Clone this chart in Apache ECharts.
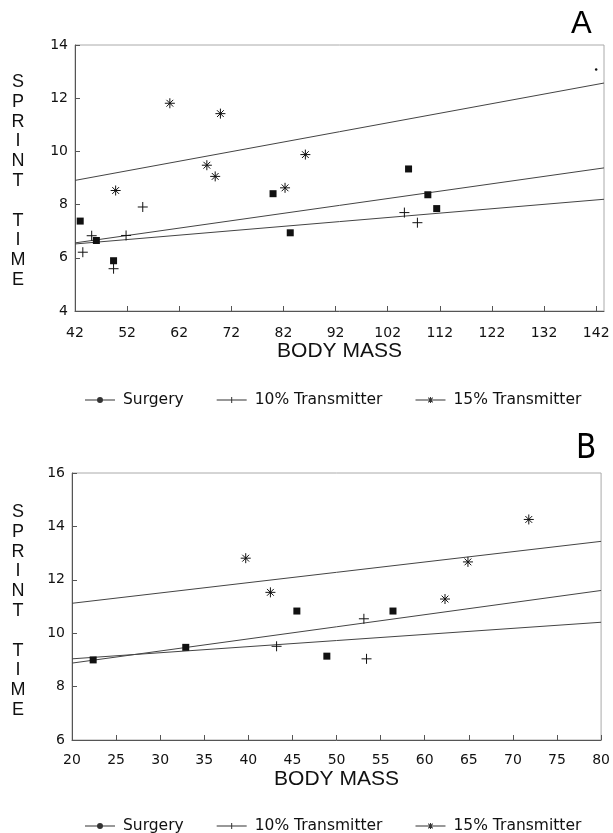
<!DOCTYPE html>
<html>
<head>
<meta charset="utf-8">
<script src="https://cdn.jsdelivr.net/npm/echarts@6/dist/echarts.min.js"></script>
<style>
  html, body { margin: 0; padding: 0; background: #fff; }
  #chart { width: 613px; height: 833px; }
</style>
</head>
<body>
<div id="chart"></div>
<script>
  // panel A: body mass vs sprint time
  const xTicksA = [42, 52, 62, 72, 82, 92, 102, 112, 122, 132, 142]
  const surgeryA = [[43.0, 7.38], [46.1, 6.65], [49.4, 5.89], [80.0, 8.41], [83.3, 6.94], [106.0, 9.34], [109.7, 8.37], [111.4, 7.85]]
  const tx10A = [[43.5, 6.21], [45.2, 6.83], [49.4, 5.59], [51.8, 6.84], [55.0, 7.91], [105.2, 7.70], [107.7, 7.32]]
  const tx15A = [[49.8, 8.53], [60.2, 11.81], [67.3, 9.48], [68.9, 9.06], [69.9, 11.42], [82.3, 8.63], [86.2, 9.88]]
  const speckA = [[142, 13.08]]
  const fitSurgeryA = [[42, 6.56], [143.5, 9.38]]
  const fit10A = [[42, 6.52], [143.5, 8.20]]
  const fit15A = [[42, 8.91], [143.5, 12.57]]

  // panel B
  const xTicksB = [20, 25, 30, 35, 40, 45, 50, 55, 60, 65, 70, 75, 80]
  const surgeryB = [[22.4, 9.00], [32.9, 9.47], [45.5, 10.83], [48.9, 9.14], [56.4, 10.83]]
  const tx10B = [[43.2, 9.51], [53.1, 10.54], [53.4, 9.04]]
  const tx15B = [[39.7, 12.81], [42.5, 11.53], [62.3, 11.28], [64.9, 12.67], [71.8, 14.26]]
  const fitSurgeryB = [[20, 8.88], [80, 11.60]]
  const fit10B = [[20, 9.04], [80, 10.41]]
  const fit15B = [[20, 11.12], [80, 13.44]]

  const yName = 'S\nP\nR\nI\nN\nT\n\nT\nI\nM\nE'
  const ink = '#111'
  const crossPath = 'path://M5,0L5,10M0,5L10,5'
  const starPath = 'path://M5,0L5,10M0,5L10,5M1.6,1.6L8.4,8.4M8.4,1.6L1.6,8.4'

  // legend keys: a short line with the marker on it
  const keySurgery = 'path://M0,2.5H12.2V3.5H0Z M17.8,2.5H30V3.5H17.8Z M12,3 A3,3 0 1,1 18,3 A3,3 0 1,1 12,3 Z'
  const key10 = 'path://M0,2.5H30V3.5H0Z M14.5,0H15.5V6H14.5Z'
  const key15 = 'path://M0,2.5H30V3.5H0Z M14.5,0H15.5V6H14.5Z M12.45,1.05L13.15,0.35L17.55,4.95L16.85,5.65Z M16.85,0.35L17.55,1.05L13.15,5.65L12.45,4.95Z'

  const chart = echarts.init(document.querySelector('#chart'))

  function xAxisOf(grid, min, max, ticks, margin) {
    return {
      gridIndex: grid,
      type: 'value',
      min: min,
      max: max,
      name: 'BODY MASS',
      nameLocation: 'middle',
      nameGap: 29,
      nameTextStyle: { fontFamily: 'Liberation Sans', fontSize: 21, color: ink },
      axisLine: { lineStyle: { color: '#555', width: 1 } },
      axisTick: { inside: true, length: 5, customValues: ticks, lineStyle: { color: '#555' } },
      axisLabel: { customValues: ticks, margin: margin, fontFamily: 'DejaVu Sans', fontSize: 14, color: ink },
      splitLine: { show: false }
    }
  }

  function yAxisOf(grid, min, max) {
    return {
      gridIndex: grid,
      type: 'value',
      min: min,
      max: max,
      interval: 2,
      axisLine: { show: true, lineStyle: { color: '#555', width: 1 } },
      axisTick: { show: true, inside: true, length: 5, lineStyle: { color: '#555' } },
      axisLabel: { margin: 7, fontFamily: 'DejaVu Sans', fontSize: 14, color: ink },
      splitLine: { show: false }
    }
  }

  // stacked letters for the vertical axis title
  function yTitle(cy) {
    return {
      type: 'text',
      x: 18,
      y: cy,
      style: {
        text: yName,
        font: '18px "Liberation Sans"',
        lineHeight: 19.8,
        align: 'center',
        verticalAlign: 'middle',
        fill: ink
      }
    }
  }

  function points(name, idx, data, symbol, size, border) {
    return {
      name: name,
      type: 'scatter',
      xAxisIndex: idx,
      yAxisIndex: idx,
      data: data,
      symbol: symbol,
      symbolSize: size,
      itemStyle: { color: ink, borderColor: ink, borderWidth: border, opacity: 1 },
      z: 3
    }
  }

  function fit(idx, data) {
    return {
      type: 'line',
      xAxisIndex: idx,
      yAxisIndex: idx,
      data: data,
      symbol: 'none',
      silent: true,
      lineStyle: { color: '#444', width: 1 },
      z: 2
    }
  }

  function legendAt(top) {
    return {
      top: top,
      left: 80,
      itemWidth: 30,
      itemHeight: 6,
      itemGap: 33,
      itemStyle: { color: '#333', borderWidth: 0 },
      textStyle: { fontFamily: 'DejaVu Sans', fontSize: 15.5, color: ink, padding: [0, 0, 0, 3] },
      data: [
        { name: 'Surgery', icon: keySurgery },
        { name: '10% Transmitter', icon: key10 },
        { name: '15% Transmitter', icon: key15 }
      ]
    }
  }

  chart.setOption({
    backgroundColor: '#fff',
    animation: false,
    title: [
      { text: 'A', left: 566, top: 4, textStyle: { fontFamily: 'Liberation Sans', fontSize: 31, fontWeight: 'normal', color: '#000' } },
      { text: 'B', left: 571, top: 428, textStyle: { fontFamily: "'DejaVu Sans Condensed', 'Liberation Sans', sans-serif", fontSize: 33, fontWeight: 'normal', color: '#000' } }
    ],
    graphic: [yTitle(181), yTitle(611)],
    grid: [
      { left: 75, top: 45, width: 529, height: 266, show: true, borderColor: '#aaa', borderWidth: 1 },
      { left: 72, top: 473, width: 532, height: 267, show: true, borderColor: '#aaa', borderWidth: 1 }
    ],
    legend: [legendAt(387), legendAt(813)],
    xAxis: [xAxisOf(0, 42, 143.5, xTicksA, 15), xAxisOf(1, 20, 80, xTicksB, 13)],
    yAxis: [yAxisOf(0, 4, 14), yAxisOf(1, 6, 16)],
    series: [
      fit(0, fitSurgeryA), fit(0, fit10A), fit(0, fit15A),
      fit(1, fitSurgeryB), fit(1, fit10B), fit(1, fit15B),
      points('Surgery', 0, surgeryA, 'rect', 7, 0),
      points('10% Transmitter', 0, tx10A, crossPath, 10, 1),
      points('15% Transmitter', 0, tx15A, starPath, 10, 1),
      points('speck', 0, speckA, 'circle', 2.5, 0),
      points('Surgery', 1, surgeryB, 'rect', 7, 0),
      points('10% Transmitter', 1, tx10B, crossPath, 10, 1),
      points('15% Transmitter', 1, tx15B, starPath, 10, 1)
    ]
  })
</script>
</body>
</html>
